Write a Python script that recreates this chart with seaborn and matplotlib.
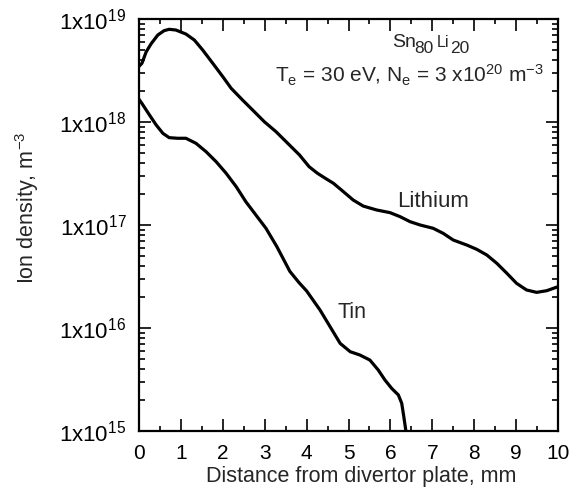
import numpy as np
import pandas as pd
import seaborn as sns
import matplotlib
matplotlib.use("Agg")
import matplotlib.pyplot as plt
from matplotlib.ticker import FixedLocator, FuncFormatter, MultipleLocator, LogLocator, NullFormatter

# Data (x in mm, log10 of ion density in m^-3)
li_x = [0.0, 0.07, 0.17, 0.29, 0.45, 0.60, 0.72, 0.88, 1.12, 1.32, 1.52, 1.76, 2.00, 2.20,
        2.47, 2.71, 2.99, 3.27, 3.51, 3.83, 4.06, 4.26, 4.46, 4.64, 4.88, 5.11, 5.35, 5.67,
        5.99, 6.23, 6.47, 6.71, 7.02, 7.26, 7.50, 7.82, 8.06, 8.30, 8.54, 8.78, 9.01, 9.25,
        9.49, 9.73, 10.0]
li_log = [18.54, 18.57, 18.68, 18.76, 18.845, 18.887, 18.90, 18.893, 18.854, 18.796, 18.699, 18.57, 18.44, 18.327,
          18.214, 18.117, 18.003, 17.906, 17.809, 17.68, 17.566, 17.502, 17.45, 17.405, 17.323, 17.243, 17.184, 17.146,
          17.12, 17.081, 17.032, 17.00, 16.968, 16.919, 16.854, 16.806, 16.764, 16.709, 16.628, 16.531, 16.434, 16.369,
          16.346, 16.362, 16.401]

sn_x = [0.0, 0.07, 0.25, 0.41, 0.57, 0.72, 0.92, 1.12, 1.36, 1.60, 1.84, 2.08, 2.32, 2.55,
        2.79, 3.03, 3.29, 3.60, 3.82, 4.00, 4.32, 4.56, 4.80, 5.04, 5.27, 5.51, 5.71, 5.87,
        6.03, 6.19, 6.27, 6.32, 6.37]
sn_log = [18.22, 18.18, 18.068, 17.971, 17.89, 17.848, 17.842, 17.842, 17.793, 17.712, 17.615, 17.502, 17.372, 17.226,
          17.097, 16.968, 16.79, 16.55, 16.44, 16.36, 16.175, 16.013, 15.851, 15.77, 15.738, 15.689, 15.592, 15.495,
          15.414, 15.35, 15.269, 15.139, 15.0]

y_major = [15, 16, 17, 18, 19]
x_ticks = list(range(0, 11))

df = pd.DataFrame({
    "x": li_x + sn_x,
    "density": [10.0 ** v for v in li_log + sn_log],
    "species": ["Lithium"] * len(li_x) + ["Tin"] * len(sn_x),
})

sns.set_style("ticks")
plt.rcParams["font.family"] = ["Liberation Sans", "DejaVu Sans"]
plt.rcParams["mathtext.fontset"] = "custom"
plt.rcParams["mathtext.rm"] = "Liberation Sans"
plt.rcParams["mathtext.default"] = "regular"

W, H = 582, 496
fig = plt.figure(figsize=(W / 100, H / 100), dpi=100)
L, R, T, B = 139, 558, 19, 431
ax = fig.add_axes([L / W, 1 - B / H, (R - L) / W, (B - T) / H])

sns.lineplot(data=df, x="x", y="density", hue="species", palette=["black", "black"],
             linewidth=2.3, legend=False, ax=ax, sort=False, estimator=None)

ax.set_yscale("log")
ax.set_xlim(0, 10)
ax.set_ylim(1e15, 1e19)

ax.xaxis.set_major_locator(FixedLocator(x_ticks))
ax.xaxis.set_minor_locator(MultipleLocator(0.5))
ax.yaxis.set_major_locator(FixedLocator([10.0 ** p for p in y_major]))
ax.yaxis.set_major_formatter(FuncFormatter(lambda v, pos: r"1x10$^{%d}$" % int(round(np.log10(v)))))
ax.yaxis.set_minor_locator(LogLocator(base=10, subs=np.arange(2, 10), numticks=20))
ax.yaxis.set_minor_formatter(NullFormatter())

ax.tick_params(which="both", direction="in", top=True, right=True, width=1.2, colors="black")
ax.tick_params(axis="x", which="major", length=8.5, labelsize=15, pad=9.5)
ax.tick_params(axis="x", which="minor", length=3.5)
ax.tick_params(axis="y", which="major", length=8.5, labelsize=16, pad=9)
ax.tick_params(axis="y", which="minor", length=4.5)

for s in ax.spines.values():
    s.set_linewidth(1.6)
    s.set_color("black")

ax.set_xlabel("Distance from divertor plate, mm", fontsize=15.5)
ax.set_ylabel("Ion density, m$^{-3}$", fontsize=15.5)
ax.xaxis.set_label_coords((361.5 - L) / (R - L), (B - 466) / (B - T))
ax.yaxis.set_label_coords((41 - L) / (R - L), (B - 207.5) / (B - T))

def ftext(x, y, s, **kw):
    fig.text(x / W, 1 - y / H, s, va="baseline", ha="left", **kw)

ftext(392, 47, "Sn", fontsize=14)
ftext(414, 53, "80", fontsize=12.5)
ftext(437, 47, "Li", fontsize=11.5)
ftext(450, 53, "20", fontsize=12.5)
ftext(275, 83, r"T$_{e}$ = 30 eV, N$_{e}$ = 3 x10$^{20}$ m$^{-3}$", fontsize=15)
ftext(397, 207, "Lithium", fontsize=16)
ftext(337, 318, "Tin", fontsize=15.5)

fig.savefig("out.png", dpi=100)
